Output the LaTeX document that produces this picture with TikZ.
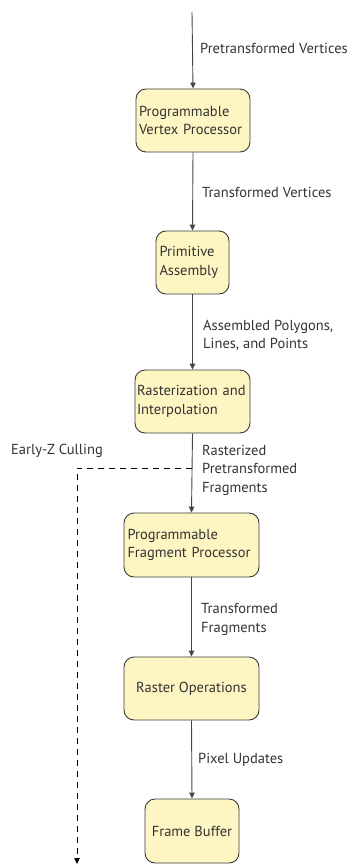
\documentclass[tikz,border=0pt]{standalone}
\usepackage{fontspec}
\setmainfont{PT Sans}
\usetikzlibrary{arrows.meta}
\definecolor{boxfill}{HTML}{FDF5C2}
\definecolor{boxdraw}{HTML}{3A3A3A}
\definecolor{txt}{HTML}{333333}
\definecolor{wire}{HTML}{444444}
\tikzset{
  stage/.style={draw=boxdraw, fill=boxfill, line width=0.9pt, rounded corners=10pt,
    inner sep=0pt, text=txt, font=\fontsize{14.5}{18.5}\selectfont},
  lbl/.style={anchor=west, inner sep=0pt, text=txt, align=left, font=\fontsize{14.5}{18.5}\selectfont},
  flow/.style={draw=wire, line width=0.9pt, -{Triangle[length=6pt,width=5.5pt]}},
  cull/.style={draw=black, line width=0.8pt, dash pattern=on 6pt off 5pt, -{Triangle[length=6pt,width=5.5pt]}}
}
\begin{document}
\begin{tikzpicture}[x=1pt,y=-1pt]
\useasboundingbox (0,0) rectangle (351,864);
\node[stage, minimum width=114, minimum height=63, text width=108, align=left] (vp) at (193,120.5) {Programmable\\Vertex Processor};
\node[stage, minimum width=73, minimum height=63, text width=66, align=left] (pa) at (192.5,262.5) {Primitive\\Assembly};
\node[stage, minimum width=115, minimum height=63, text width=111, align=left] (ri) at (192.5,401.5) {Rasterization and\\Interpolation};
\node[stage, minimum width=135, minimum height=64, text width=128, align=left] (fp) at (191.5,545) {Programmable\\Fragment Processor};
\node[stage, minimum width=135, minimum height=63, align=center] (ro) at (191.5,688.5) {Raster Operations};
\node[stage, minimum width=94, minimum height=64, align=center] (fb) at (192,831) {Frame Buffer};
\coordinate (top) at (192,12);
\coordinate (split) at (192,468);
\coordinate (corner) at (77,468);
\coordinate (cullend) at (77,864);
\draw[flow] (top) -- (vp.north);
\draw[flow] (vp.south) -- (pa.north);
\draw[flow] (pa.south) -- (ri.north);
\draw[flow] (ri.south) -- (fp.north);
\draw[flow] (fp.south) -- (ro.north);
\draw[flow] (ro.south) -- (fb.north);
\draw[cull] (split) -- (corner) -- (cullend);
\node[lbl] (l1) at (200,48) {Pretransformed Vertices};
\node[lbl] (l2) at (202,192) {Transformed Vertices};
\node[lbl] (l3) at (203,335.5) {Assembled Polygons,\\Lines, and Points};
\node[lbl] (l4) at (202,470) {Rasterized\\Pretransformed\\Fragments};
\node[lbl] (l5) at (201,619.5) {Transformed\\Fragments};
\node[lbl] (l6) at (198,760) {Pixel Updates};
\node[lbl, anchor=east] (l7) at (103,451) {Early-Z Culling};
\end{tikzpicture}
\end{document}
